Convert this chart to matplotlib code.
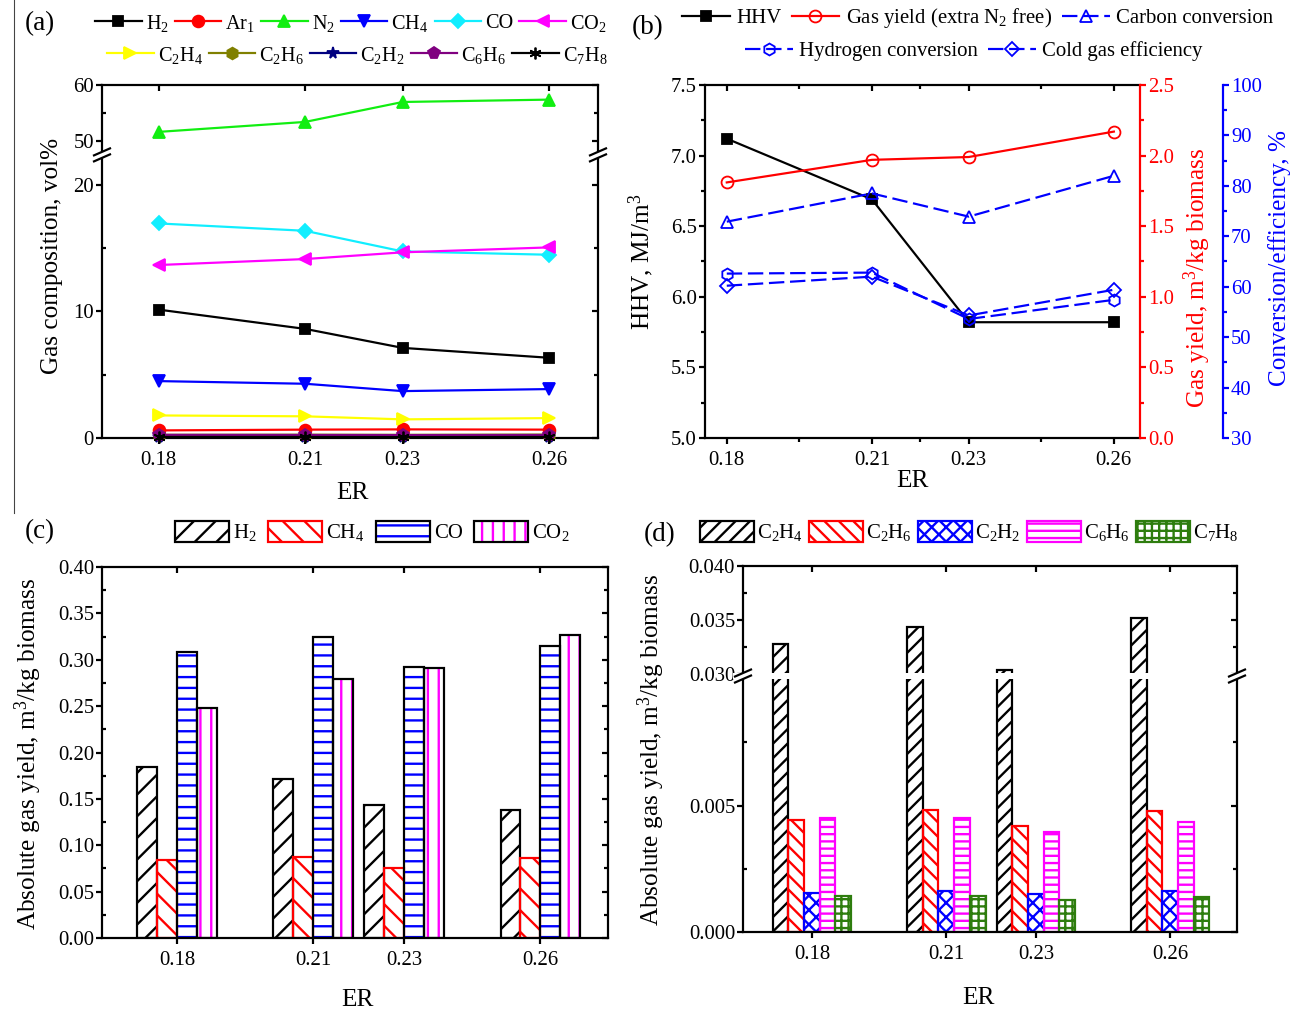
import numpy as np
import matplotlib
matplotlib.use('Agg')
import matplotlib.pyplot as plt
import matplotlib.lines as mlines
from matplotlib.lines import Line2D
from matplotlib.patches import Rectangle

W, H, DPI = 1292, 1010, 130


def px(v):
    # pixels -> points
    return v * 72.0 / DPI


plt.rcParams['font.family'] = ['Liberation Serif', 'DejaVu Serif']
plt.rcParams['mathtext.fontset'] = 'custom'
plt.rcParams['mathtext.rm'] = 'Liberation Serif'
plt.rcParams['mathtext.it'] = 'Liberation Serif:italic'
plt.rcParams['hatch.linewidth'] = 1.3
plt.rcParams['axes.linewidth'] = px(2.2)

FS_TICK = 11.5
FS_LAB = 14
FS_LEG = 11.2
FS_TAG = 15
LW = px(2.2)
MS = 6.5

er = [0.18, 0.21, 0.23, 0.26]
er_labels = ['0.18', '0.21', '0.23', '0.26']

# (a) gas composition, vol%
h2 = [10.13, 8.61, 7.11, 6.33]
ar1 = [0.60, 0.66, 0.68, 0.66]
n2 = [51.66, 53.43, 56.98, 57.40]
ch4 = [4.49, 4.28, 3.70, 3.86]
co = [16.93, 16.35, 14.72, 14.46]
co2 = [13.65, 14.12, 14.65, 15.04]
c2h4 = [1.78, 1.71, 1.47, 1.57]
c2h6 = [0.25, 0.26, 0.25, 0.27]
c2h2 = [0.08, 0.09, 0.09, 0.09]
c6h6 = [0.25, 0.24, 0.23, 0.24]
c7h8 = [0.08, 0.08, 0.07, 0.08]

# (b) HHV, gas yield, conversions
hhv = [7.12, 6.69, 5.82, 5.82]
gas_yield = [1.81, 1.97, 1.99, 2.17]
carbon_conv = [72.9, 78.5, 73.9, 82.0]
hydrogen_conv = [62.6, 62.8, 53.6, 57.4]
cold_gas_eff = [60.2, 62.0, 54.3, 59.4]

# (c) absolute yields, m3/kg biomass
yld_h2 = [0.184, 0.171, 0.143, 0.138]
yld_ch4 = [0.084, 0.087, 0.076, 0.086]
yld_co = [0.308, 0.325, 0.292, 0.315]
yld_co2 = [0.248, 0.279, 0.291, 0.327]

# (d) absolute yields of hydrocarbons
yld_c2h4 = [0.0328, 0.0344, 0.0304, 0.0352]
yld_c2h6 = [0.00443, 0.00483, 0.00421, 0.00479]
yld_c2h2 = [0.00154, 0.00163, 0.00151, 0.00161]
yld_c6h6 = [0.00453, 0.00453, 0.00395, 0.00437]
yld_c7h8 = [0.00141, 0.00143, 0.00128, 0.00138]


def chem(*parts):
    s = ''
    for p in parts:
        if p.isdigit():
            s += r'$_\mathregular{' + p + '}$'
        else:
            s += p
    return s


def rect(l, t, r, b):
    return [l / W, 1 - b / H, (r - l) / W, (b - t) / H]


def broken_scale(lo, hi, s_lo, s_hi):
    eps = s_lo * 1e-5

    def fwd(y):
        y = np.asarray(y, dtype=float)
        return (np.minimum(y, lo) * s_lo + np.clip(y - lo, 0, hi - lo) * eps
                + np.maximum(y - hi, 0) * s_hi)

    def inv(v):
        v = np.asarray(v, dtype=float)
        v1 = lo * s_lo
        v2 = v1 + (hi - lo) * eps
        return np.where(v <= v1, v / s_lo,
                        np.where(v <= v2, lo + (v - v1) / eps, hi + (v - v2) / s_hi))
    return fwd, inv


def break_marks(fig, box, frac):
    l, t, r, b = box
    yb = b - frac * (b - t)
    fig.add_artist(Rectangle(((l - 10) / W, 1 - (yb + 3) / H), (r - l + 20) / W, 6 / H,
                             transform=fig.transFigure, facecolor='white',
                             edgecolor='none', zorder=5))
    for x in (l, r):
        for dy in (-3, 3):
            fig.add_artist(Line2D([(x - 8) / W, (x + 8) / W],
                                  [1 - (yb + dy + 3.5) / H, 1 - (yb + dy - 3.5) / H],
                                  transform=fig.transFigure, color='k', lw=LW, zorder=6))


def base_ticks(ax, right=True, top=True):
    ax.tick_params(which='both', direction='out', width=LW, labelsize=FS_TICK,
                   top=top, right=right, labeltop=False, labelright=False)
    ax.tick_params(which='major', length=px(6))
    ax.tick_params(which='minor', length=px(4))
    ax.tick_params(axis='x', which='major', pad=px(7))
    ax.tick_params(axis='y', which='major', pad=px(2))


def flip_ticks(ax, left_minor=True, right=True, top=True):
    # Origin-like: mirrored ticks point inward
    if top:
        for t in ax.xaxis.get_major_ticks() + ax.xaxis.get_minor_ticks():
            t.tick2line.set_marker(mlines.TICKDOWN)
    if right:
        for t in ax.yaxis.get_major_ticks() + ax.yaxis.get_minor_ticks():
            t.tick2line.set_marker(mlines.TICKLEFT)
    if left_minor:
        for t in ax.yaxis.get_minor_ticks():
            t.tick1line.set_marker(mlines.TICKRIGHT)


def place_label(ax, box, text, x, y, axis='x', color='k'):
    l, t, r, b = box
    fx, fy = (x - l) / (r - l), (b - y) / (b - t)
    if axis == 'x':
        ax.set_xlabel(text, fontsize=FS_LAB, va='center', ha='center', color=color)
        ax.xaxis.set_label_coords(fx, fy)
    else:
        ax.set_ylabel(text, fontsize=FS_LAB, va='center', ha='center', color=color)
        ax.yaxis.set_label_coords(fx, fy)


fig = plt.figure(figsize=(W / DPI, H / DPI), dpi=DPI)

# ---------------- (a) ----------------
box_a = (102, 85, 598, 438)
ax_a = fig.add_axes(rect(*box_a))
fwd_a, inv_a = broken_scale(22.34, 47.57, 38.1, 16.9)
ax_a.set_yscale('function', functions=(fwd_a, inv_a))

series_a = [
    (h2, chem('H', '2'), 'black', 's'),
    (ar1, chem('Ar', '1'), '#ff0000', 'o'),
    (n2, chem('N', '2'), '#11ee11', '^'),
    (ch4, chem('CH', '4'), '#0000ff', 'v'),
    (co, 'CO', '#11eeff', 'D'),
    (co2, chem('CO', '2'), '#ff00ff', '<'),
    (c2h4, chem('C', '2', 'H', '4'), '#ffff00', '>'),
    (c2h6, chem('C', '2', 'H', '6'), '#808000', 'h'),
    (c2h2, chem('C', '2', 'H', '2'), '#000080', '*'),
    (c6h6, chem('C', '6', 'H', '6'), '#800080', 'p'),
    (c7h8, chem('C', '7', 'H', '8'), 'black', (6, 2, 0)),
]
lines_a = []
for vals, lab, col, mk in series_a:
    ms = MS * 0.8 if mk in ('D', 's') else MS
    ln, = ax_a.plot(er, vals, color=col, marker=mk, lw=LW, ms=ms, mew=1,
                    label=lab, clip_on=False, zorder=3)
    lines_a.append(ln)

ax_a.set_xlim(0.1684, 0.27)
ax_a.set_ylim(0, 60)
ax_a.set_xticks(er)
ax_a.set_xticklabels(er_labels)
ax_a.set_yticks([0, 10, 20, 50, 60])
ax_a.set_yticklabels(['0', '10', '20', '50', '60'])
ax_a.set_yticks([5, 15, 55], minor=True)
base_ticks(ax_a)
place_label(ax_a, box_a, 'ER', 352, 493)
place_label(ax_a, box_a, 'Gas composition, vol%', 52, 256, axis='y')

leg_kw = dict(frameon=False, handlelength=2.3, handletextpad=0.2, columnspacing=0.3,
              borderpad=0, borderaxespad=0, fontsize=FS_LEG, loc='center left')
fig.legend(lines_a[:6], [s[1] for s in series_a[:6]], ncol=6,
           bbox_to_anchor=(95 / W, 1 - 23 / H), **leg_kw)
fig.legend(lines_a[6:], [s[1] for s in series_a[6:]], ncol=5,
           bbox_to_anchor=(107 / W, 1 - 55 / H), **leg_kw)

# ---------------- (b) ----------------
box_b = (705, 85, 1140, 438)
ax_b = fig.add_axes(rect(*box_b))
dash = (0, (7, 2.6))
l_hhv, = ax_b.plot(er, hhv, color='black', marker='s', lw=LW, ms=6 * 0.9, zorder=3)
ax_b.set_xlim(0.1755, 0.2654)
ax_b.set_ylim(5.0, 7.5)
ax_b.set_xticks(er)
ax_b.set_xticklabels(er_labels)
ax_b.set_xticks([0.195, 0.22, 0.245], minor=True)
ax_b.set_yticks(np.arange(5.0, 7.51, 0.5))
ax_b.set_yticklabels(['5.0', '5.5', '6.0', '6.5', '7.0', '7.5'])
ax_b.set_yticks(np.arange(5.25, 7.5, 0.5), minor=True)
ax_b.spines['right'].set_visible(False)
base_ticks(ax_b, right=False)
place_label(ax_b, box_b, 'ER', 912, 481)
place_label(ax_b, box_b, 'HHV, MJ/m$^\\mathregular{3}$', 641, 262, axis='y')

ax_r = ax_b.twinx()
l_gas, = ax_r.plot(er, gas_yield, color='#ff0000', marker='o', mfc='none', mew=1,
                   lw=LW, ms=6.6)
ax_r.set_ylim(0.0, 2.5)
ax_r.set_yticks(np.arange(0.0, 2.51, 0.5))
ax_r.set_yticklabels(['0.0', '0.5', '1.0', '1.5', '2.0', '2.5'])
ax_r.set_yticks(np.arange(0.25, 2.5, 0.5), minor=True)
for s in ('left', 'top', 'bottom'):
    ax_r.spines[s].set_visible(False)
ax_r.spines['right'].set_color('#ff0000')
ax_r.tick_params(which='both', direction='out', width=LW, colors='#ff0000',
                 labelsize=FS_TICK, pad=px(2))
ax_r.tick_params(which='major', length=px(6))
ax_r.tick_params(which='minor', length=px(4))
place_label(ax_r, box_b, 'Gas yield, m$^\\mathregular{3}$/kg biomass', 1197, 278,
            axis='y', color='#ff0000')

ax_c = ax_b.twinx()
ax_c.spines['right'].set_position(('axes', 1 + 83 / 435))
l_cc, = ax_c.plot(er, carbon_conv, color='#0000ff', ls=dash, marker='^', mfc='none',
                  mew=1, lw=LW, ms=6.6)
l_hc, = ax_c.plot(er, hydrogen_conv, color='#0000ff', ls=dash, marker='h', mfc='none',
                  mew=1, lw=LW, ms=6.6)
l_cg, = ax_c.plot(er, cold_gas_eff, color='#0000ff', ls=dash, marker='D', mfc='none',
                  mew=1, lw=LW, ms=5.1)
ax_c.set_ylim(30, 100)
ax_c.set_yticks(np.arange(30, 101, 10))
ax_c.set_yticks(np.arange(35, 100, 10), minor=True)
for s in ('left', 'top', 'bottom'):
    ax_c.spines[s].set_visible(False)
ax_c.spines['right'].set_color('#0000ff')
ax_c.tick_params(which='both', direction='out', width=LW, colors='#0000ff',
                 labelsize=FS_TICK, pad=px(2))
ax_c.tick_params(which='major', length=px(6))
ax_c.tick_params(which='minor', length=px(4))
place_label(ax_c, box_b, 'Conversion/efficiency, %', 1280, 258, axis='y', color='#0000ff')

leg_b = dict(leg_kw, fontsize=11.5, handlelength=2.3, handletextpad=0.3, columnspacing=0.5)
fig.legend([l_hhv, l_gas, l_cc],
           ['HHV', 'Gas yield (extra N$_\\mathregular{2}$ free)', 'Carbon conversion'],
           ncol=3, bbox_to_anchor=(682 / W, 1 - 18 / H), **leg_b)
fig.legend([l_hc, l_cg], ['Hydrogen conversion', 'Cold gas efficiency'],
           ncol=2, bbox_to_anchor=(745 / W, 1 - 51 / H), **leg_b)

# ---------------- (c) ----------------
box_c = (102, 567, 608, 938)
ax_cc = fig.add_axes(rect(*box_c))
bw_c = 0.0175 / 4
series_c = [
    (yld_h2, chem('H', '2'), 'black', 'black', '//'),
    (yld_ch4, chem('CH', '4'), '#ff0000', '#ff0000', '\\\\'),
    (yld_co, 'CO', '#0000ff', 'black', '--'),
    (yld_co2, chem('CO', '2'), '#ff00ff', 'black', '||'),
]
handles_c = []
for i, (vals, lab, hcol, ecol, hatch) in enumerate(series_c):
    x = np.array(er) + (i - 1.5) * bw_c
    hb = ax_cc.bar(x, vals, bw_c, facecolor='none', edgecolor=hcol, hatch=hatch, lw=0)
    ob = ax_cc.bar(x, vals, bw_c, fill=False, edgecolor=ecol, lw=LW)
    handles_c.append((hb, ob))
ax_cc.set_xlim(0.1635, 0.2749)
ax_cc.set_ylim(0, 0.40)
ax_cc.set_xticks(er)
ax_cc.set_xticklabels(er_labels)
ax_cc.set_yticks(np.arange(0, 0.401, 0.05))
ax_cc.set_yticklabels(['%.2f' % v for v in np.arange(0, 0.401, 0.05)])
ax_cc.set_yticks(np.arange(0.025, 0.4, 0.05), minor=True)
base_ticks(ax_cc)
place_label(ax_cc, box_c, 'ER', 357, 1000)
place_label(ax_cc, box_c, 'Absolute gas yield, m$^\\mathregular{3}$/kg biomass', 28, 754,
            axis='y')
leg_c = dict(leg_kw, fontsize=11.5, handlelength=2.6, handleheight=1.2,
             handletextpad=0.2, columnspacing=0.55)
fig.legend(handles_c, [s[1] for s in series_c], ncol=4,
           bbox_to_anchor=(175 / W, 1 - 532 / H), **leg_c)

# ---------------- (d) ----------------
box_d = (743, 566, 1237, 932)
ax_d = fig.add_axes(rect(*box_d))
fwd_d, inv_d = broken_scale(0.01013, 0.02985, 76000, 32600)
ax_d.set_yscale('function', functions=(fwd_d, inv_d))
bw_d = 0.0035
series_d = [
    (yld_c2h4, chem('C', '2', 'H', '4'), 'black', '///'),
    (yld_c2h6, chem('C', '2', 'H', '6'), '#ff0000', '\\\\\\'),
    (yld_c2h2, chem('C', '2', 'H', '2'), '#0000ff', 'xxx'),
    (yld_c6h6, chem('C', '6', 'H', '6'), '#ff00ff', '---'),
    (yld_c7h8, chem('C', '7', 'H', '8'), '#2e7d0e', '+++'),
]
handles_d = []
for i, (vals, lab, col, hatch) in enumerate(series_d):
    x = np.array(er) + (i - 2) * bw_d
    bars = ax_d.bar(x, vals, bw_d, facecolor='none', edgecolor=col, hatch=hatch, lw=LW)
    handles_d.append(bars)
ax_d.set_xlim(0.1646, 0.2749)
ax_d.set_ylim(0, 0.040)
ax_d.set_xticks(er)
ax_d.set_xticklabels(er_labels)
yt_d = [0.0, 0.005, 0.030, 0.035, 0.040]
ax_d.set_yticks(yt_d)
ax_d.set_yticklabels(['%.3f' % v for v in yt_d])
ax_d.set_yticks([0.0025, 0.0075, 0.0325, 0.0375], minor=True)
base_ticks(ax_d)
place_label(ax_d, box_d, 'ER', 978, 998)
place_label(ax_d, box_d, 'Absolute gas yield, m$^\\mathregular{3}$/kg biomass', 651, 750,
            axis='y')
leg_d = dict(leg_c, handletextpad=0.15, columnspacing=0.3)
fig.legend(handles_d, [s[1] for s in series_d], ncol=5,
           bbox_to_anchor=(700 / W, 1 - 532 / H), **leg_d)

# broken axes
lo, hi = 22.34, 47.57
break_marks(fig, box_a, float(fwd_a((lo + hi) / 2) / fwd_a(60)))
lo, hi = 0.01013, 0.02985
break_marks(fig, box_d, float(fwd_d((lo + hi) / 2) / fwd_d(0.040)))

# panel tags
for tag, x, y in [('(a)', 40, 24), ('(b)', 648, 28), ('(c)', 40, 532), ('(d)', 660, 535)]:
    fig.text(x / W, 1 - y / H, tag, fontsize=FS_TAG, ha='center', va='center')

# thin border line on the left of the scan
fig.add_artist(Line2D([14 / W, 14 / W], [1, 1 - 513 / H], transform=fig.transFigure,
                      color='#444444', lw=0.6))

for ax in (ax_a, ax_cc, ax_d):
    flip_ticks(ax)
flip_ticks(ax_b, left_minor=False, right=False)

fig.savefig('out.png', dpi=DPI)
